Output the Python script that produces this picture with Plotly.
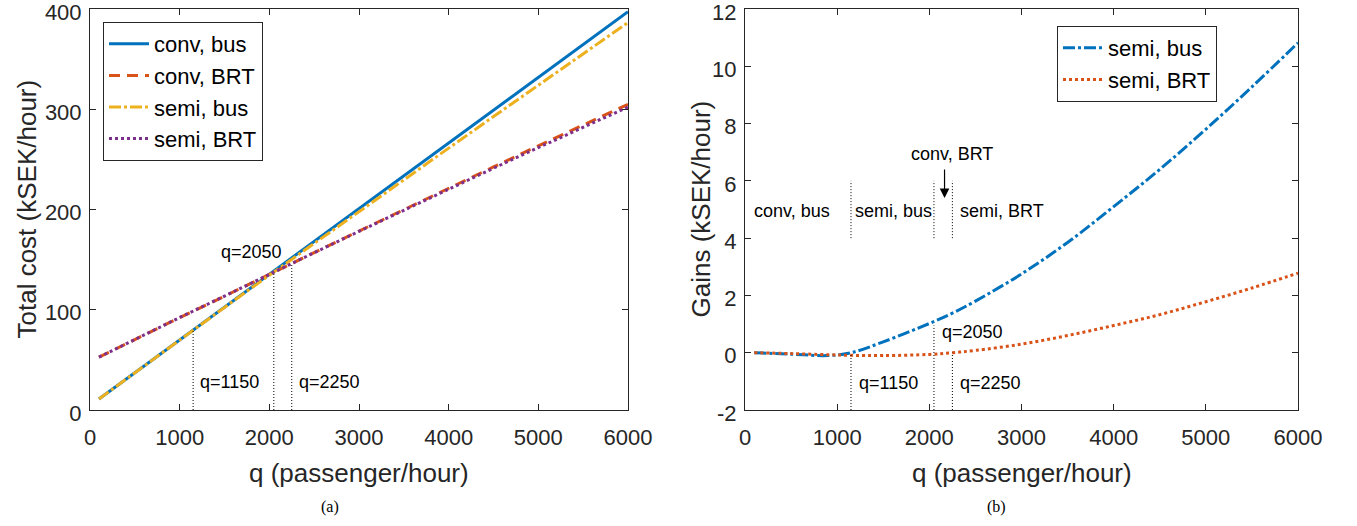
import plotly.graph_objects as go

# ---------------- data ----------------
q_cost = [100, 500, 1000, 1500, 2000, 2500, 3000, 3500, 4000, 4500, 5000, 5500, 6000]
conv_bus = [11.0, 37.2, 69.9, 102.7, 135.4, 168.1, 200.9, 233.6, 266.3, 299.1, 331.8, 364.5, 397.3]
conv_brt = [52.7, 70.5, 92.2, 113.5, 135.5, 157.0, 178.5, 200.0, 221.3, 242.5, 263.5, 284.3, 305.0]
semi_bus = [11.0, 37.25, 69.97, 102.3, 134.4, 166.3, 198.1, 229.8, 261.2, 292.7, 324.0, 355.2, 386.5]
semi_brt = [52.7, 70.53, 92.28, 113.6, 135.56, 156.92, 178.2, 199.4, 220.35, 241.17, 261.72, 282.04, 302.22]

q_gain = [100, 500, 900, 1150, 1500, 2000, 2250, 2500, 3000, 3500, 4000, 4500, 5000, 5500, 6000]
gain_semi_bus = [0.0, -0.05, -0.1, 0.0, 0.38, 1.02, 1.38, 1.8, 2.75, 3.85, 5.1, 6.4, 7.8, 9.28, 10.82]
gain_semi_brt = [0.0, -0.03, -0.07, -0.09, -0.1, -0.06, 0.0, 0.08, 0.3, 0.6, 0.95, 1.33, 1.78, 2.26, 2.78]

thresholds = [1150, 2050, 2250]
threshold_labels = ["q=1150", "q=2050", "q=2250"]
cost_at_threshold = [79.7, 137.7, 146.2]
gain_at_threshold = [-0.05, 0.95, 0.0]

x_ticks = [0, 1000, 2000, 3000, 4000, 5000, 6000]
cost_ticks = [0, 100, 200, 300, 400]
gain_ticks = [-2, 0, 2, 4, 6, 8, 10, 12]
gain_tick_text = ["-2", "0", "2", "4", "6", "8", "10", "12"]

# ---------------- style ----------------
BLUE = "#0072BD"
RED = "#D95319"
YELLOW = "#EDB120"
PURPLE = "#7E2F8E"
AX = "#262626"
FONT = "Liberation Sans, Arial, sans-serif"
LW = 3

W, H = 1357, 526


def px_x(p):
    return p / W


def px_y(p):
    return (H - p) / H


fig = go.Figure()

# left panel
fig.add_trace(go.Scatter(x=q_cost, y=conv_bus, mode="lines", name="conv, bus",
                         line=dict(color=BLUE, width=LW), xaxis="x", yaxis="y", legend="legend"))
fig.add_trace(go.Scatter(x=q_cost, y=conv_brt, mode="lines", name="conv, BRT",
                         line=dict(color=RED, width=LW, dash="11px,7px"), xaxis="x", yaxis="y", legend="legend"))
fig.add_trace(go.Scatter(x=q_cost, y=semi_bus, mode="lines", name="semi, bus",
                         line=dict(color=YELLOW, width=LW, dash="12px,3px,3px,3px"), xaxis="x", yaxis="y", legend="legend"))
fig.add_trace(go.Scatter(x=q_cost, y=semi_brt, mode="lines", name="semi, BRT",
                         line=dict(color=PURPLE, width=LW, dash="3px,3px"), xaxis="x", yaxis="y", legend="legend"))

for t, top in zip(thresholds, cost_at_threshold):
    fig.add_trace(go.Scatter(x=[t, t], y=[0, top], mode="lines", showlegend=False,
                             line=dict(color="black", width=1, dash="1px,2px"), xaxis="x", yaxis="y"))

# right panel
fig.add_trace(go.Scatter(x=q_gain, y=gain_semi_bus, mode="lines", name="semi, bus", line_shape="spline",
                         line=dict(color=BLUE, width=LW, dash="12px,3px,3px,3px"), xaxis="x2", yaxis="y2", legend="legend2"))
fig.add_trace(go.Scatter(x=q_gain, y=gain_semi_brt, mode="lines", name="semi, BRT", line_shape="spline",
                         line=dict(color=RED, width=LW, dash="3px,3px"), xaxis="x2", yaxis="y2", legend="legend2"))

for t, top in zip(thresholds, gain_at_threshold):
    fig.add_trace(go.Scatter(x=[t, t], y=[-2, top], mode="lines", showlegend=False,
                             line=dict(color="black", width=1, dash="1px,2px"), xaxis="x2", yaxis="y2"))
    fig.add_trace(go.Scatter(x=[t, t], y=[4, 6], mode="lines", showlegend=False,
                             line=dict(color="black", width=1, dash="1px,2px"), xaxis="x2", yaxis="y2"))

axis_common = dict(showline=True, linecolor=AX, linewidth=1, mirror="ticks", ticks="inside",
                   ticklen=6, tickcolor=AX, showgrid=False, zeroline=False,
                   tickfont=dict(family=FONT, size=22, color=AX), automargin=False,
                   ticklabeloverflow="allow")

fig.update_layout(
    width=W, height=H,
    margin=dict(l=0, r=0, t=0, b=0),
    paper_bgcolor="white", plot_bgcolor="white",
    font=dict(family=FONT, color=AX),
    xaxis=dict(domain=[px_x(90), px_x(628)], range=[0, 6000], tickvals=x_ticks, anchor="y",
               ticklabelstandoff=8, **axis_common),
    yaxis=dict(domain=[px_y(410), px_y(9)], range=[0, 400], tickvals=cost_ticks, anchor="x",
               ticklabelstandoff=3, ticklabelshift=3, **axis_common),
    xaxis2=dict(domain=[px_x(745), px_x(1298)], range=[0, 6000], tickvals=x_ticks, anchor="y2",
                ticklabelstandoff=8, **axis_common),
    yaxis2=dict(domain=[px_y(410), px_y(9)], range=[-2, 12], tickvals=gain_ticks, ticktext=gain_tick_text,
                anchor="x2", ticklabelstandoff=3, ticklabelshift=3, **axis_common),
    legend=dict(x=px_x(103), y=px_y(22), xanchor="left", yanchor="top", bgcolor="white",
                bordercolor=AX, borderwidth=1, font=dict(family=FONT, size=22, color="black"),
                tracegroupgap=0, itemwidth=40),
    legend2=dict(x=px_x(1057), y=px_y(26), xanchor="left", yanchor="top", bgcolor="white",
                 bordercolor=AX, borderwidth=1, font=dict(family=FONT, size=22, color="black"),
                 tracegroupgap=0, itemwidth=40),
    showlegend=True,
)

TXT = dict(size=18, color="black")
ann = []
# threshold labels, left
ann.append(dict(x=1804, y=158, xref="x", yref="y", text=threshold_labels[1], showarrow=False,
                xanchor="center", yanchor="middle", font=TXT))
ann.append(dict(x=1204, y=28, xref="x", yref="y", text=threshold_labels[0], showarrow=False,
                xanchor="left", yanchor="middle", font=TXT))
ann.append(dict(x=2305, y=28, xref="x", yref="y", text=threshold_labels[2], showarrow=False,
                xanchor="left", yanchor="middle", font=TXT))
# right panel labels
ann.append(dict(x=2116, y=0.73, xref="x2", yref="y2", text=threshold_labels[1], showarrow=False,
                xanchor="left", yanchor="middle", font=TXT))
ann.append(dict(x=1212, y=-1.07, xref="x2", yref="y2", text=threshold_labels[0], showarrow=False,
                xanchor="left", yanchor="middle", font=TXT))
ann.append(dict(x=2314, y=-1.07, xref="x2", yref="y2", text=threshold_labels[2], showarrow=False,
                xanchor="left", yanchor="middle", font=TXT))
ann.append(dict(x=72, y=4.95, xref="x2", yref="y2", text="conv, bus", showarrow=False,
                xanchor="left", yanchor="middle", font=TXT))
ann.append(dict(x=1176, y=4.95, xref="x2", yref="y2", text="semi, bus", showarrow=False,
                xanchor="left", yanchor="middle", font=TXT))
ann.append(dict(x=2314, y=4.95, xref="x2", yref="y2", text="semi, BRT", showarrow=False,
                xanchor="left", yanchor="middle", font=TXT))
ann.append(dict(x=2243, y=6.95, xref="x2", yref="y2", text="conv, BRT", showarrow=False,
                xanchor="center", yanchor="middle", font=TXT))
ann.append(dict(x=2165, y=5.4, xref="x2", yref="y2", ax=2165, ay=6.45, axref="x2", ayref="y2",
                text="", showarrow=True, arrowhead=2, arrowsize=1.6, arrowwidth=1.2, arrowcolor="black"))
# axis titles
for cx, t in [(359, "q (passenger/hour)"), (1021.5, "q (passenger/hour)")]:
    ann.append(dict(x=px_x(cx), y=px_y(473), xref="paper", yref="paper", text=t,
                    xanchor="center", yanchor="middle", showarrow=False, font=dict(size=26, color=AX)))
for cx, t in [(26, "Total cost (kSEK/hour)"), (700, "Gains (kSEK/hour)")]:
    ann.append(dict(x=px_x(cx), y=px_y(209.5), xref="paper", yref="paper", text=t, textangle=-90,
                    xanchor="center", yanchor="middle", showarrow=False, font=dict(size=26, color=AX)))
# panel captions
for cx, t in [(330, "(a)"), (996, "(b)")]:
    ann.append(dict(x=px_x(cx), y=px_y(507), xref="paper", yref="paper", text=t, showarrow=False,
                    xanchor="center", yanchor="middle",
                    font=dict(family="Liberation Serif, Times New Roman, serif", size=16, color="black")))

fig.update_layout(annotations=ann)

fig.write_html("out.html", config={"displayModeBar": False},
               post_script="document.body.style.margin='0';document.body.style.overflow='hidden';")
